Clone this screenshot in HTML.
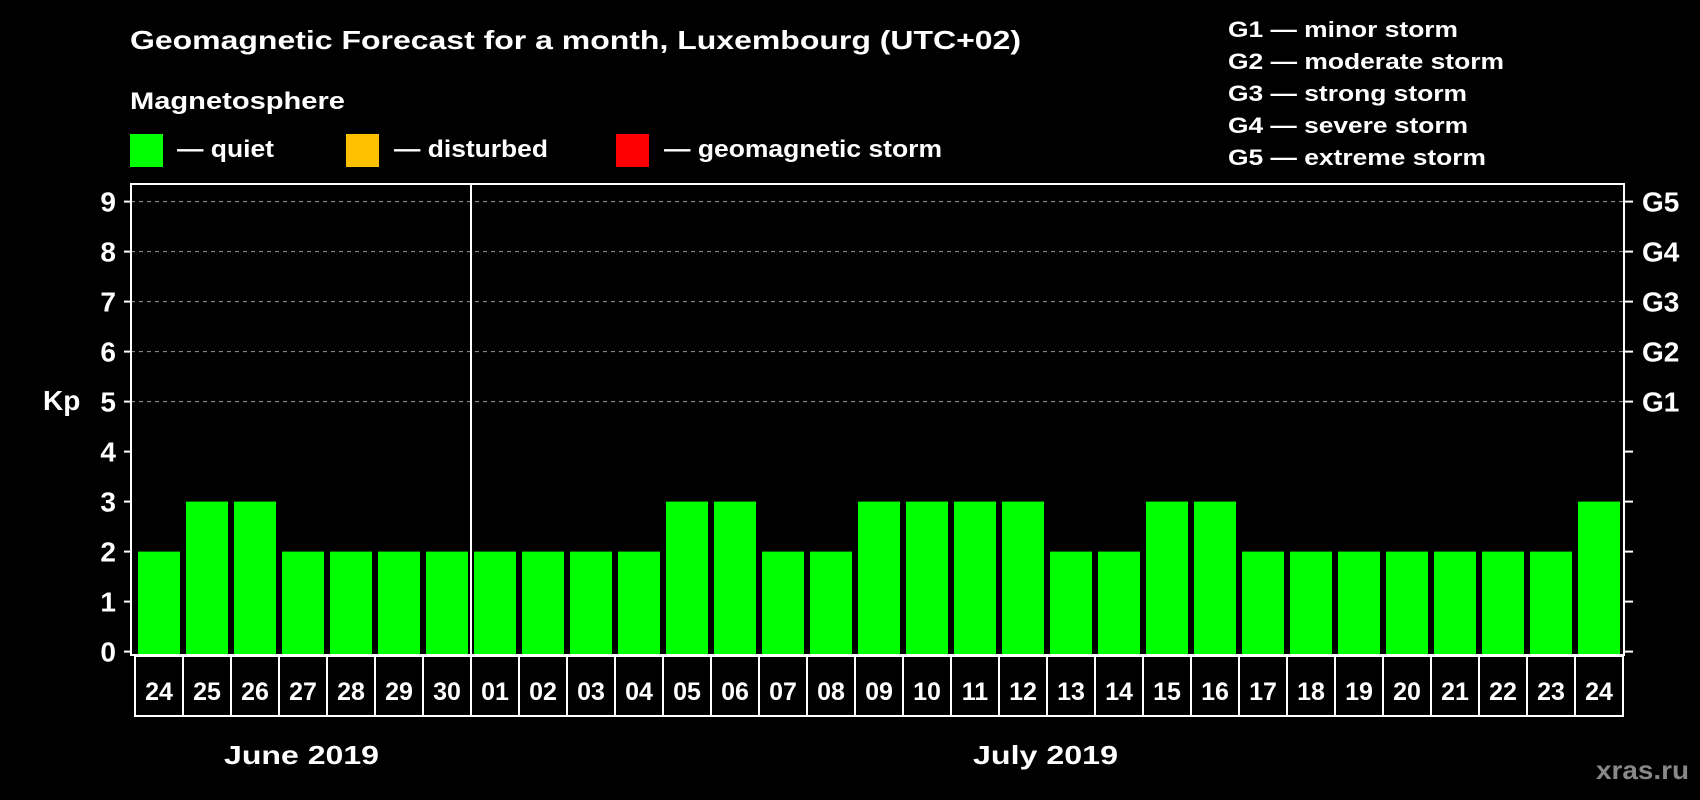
<!DOCTYPE html>
<html><head><meta charset="utf-8"><style>
html,body{margin:0;padding:0;background:#000;width:1700px;height:800px;overflow:hidden}
svg{display:block;font-family:"Liberation Sans",Arial,sans-serif;font-weight:bold}
</style></head><body>
<svg id="chart" width="1700" height="800" viewBox="0 0 1700 800">
<rect x="0" y="0" width="1700" height="800" fill="#000"/>
<text x="130" y="49" fill="#fff" font-size="26" textLength="891" lengthAdjust="spacingAndGlyphs">Geomagnetic Forecast for a month, Luxembourg (UTC+02)</text>
<text x="130" y="109" fill="#fff" font-size="24" textLength="215" lengthAdjust="spacingAndGlyphs">Magnetosphere</text>
<g><rect x="130" y="134" width="33" height="33" fill="#00ff00"/><text x="177" y="157" fill="#fff" font-size="24" textLength="97" lengthAdjust="spacingAndGlyphs">— quiet</text></g>
<g><rect x="346" y="134" width="33" height="33" fill="#ffc000"/><text x="394" y="157" fill="#fff" font-size="24" textLength="154" lengthAdjust="spacingAndGlyphs">— disturbed</text></g>
<g><rect x="616" y="134" width="33" height="33" fill="#ff0000"/><text x="664" y="157" fill="#fff" font-size="24" textLength="278" lengthAdjust="spacingAndGlyphs">— geomagnetic storm</text></g>
<g fill="#fff" font-size="22">
<text x="1228" y="37" textLength="230" lengthAdjust="spacingAndGlyphs">G1 — minor storm</text>
<text x="1228" y="69" textLength="276" lengthAdjust="spacingAndGlyphs">G2 — moderate storm</text>
<text x="1228" y="101" textLength="239" lengthAdjust="spacingAndGlyphs">G3 — strong storm</text>
<text x="1228" y="133" textLength="240" lengthAdjust="spacingAndGlyphs">G4 — severe storm</text>
<text x="1228" y="165" textLength="258" lengthAdjust="spacingAndGlyphs">G5 — extreme storm</text>
</g>
<text x="43" y="410" fill="#fff" font-size="28">Kp</text>
<text x="224" y="764" fill="#fff" font-size="26" textLength="155" lengthAdjust="spacingAndGlyphs">June 2019</text>
<text x="973" y="764" fill="#fff" font-size="26" textLength="145" lengthAdjust="spacingAndGlyphs">July 2019</text>
<text x="1596" y="779" fill="#888" font-size="26" textLength="93" lengthAdjust="spacingAndGlyphs">xras.ru</text>
<g id="plot"></g>
</svg>
<script>
const days = ["24","25","26","27","28","29","30","01","02","03","04","05","06","07","08","09","10","11","12","13","14","15","16","17","18","19","20","21","22","23","24"];
const kpValues = [2,3,3,2,2,2,2,2,2,2,2,3,3,2,2,3,3,3,3,2,2,3,3,2,2,2,2,2,2,2,3];
const yTicks = [0,1,2,3,4,5,6,7,8,9];
const gLabels = ["G1","G2","G3","G4","G5"];
const gLevels = [5,6,7,8,9];
const monthBoundaryIndex = 7;

const NS = "http://www.w3.org/2000/svg";
const plot = document.getElementById('plot');
const L = 131, R = 1624, T = 184, B = 655;
const y0 = 651.6, unit = 50;
const firstX = 138, step = 48, barW = 42;
const rowTop = 656, rowBot = 716;
function yScale(v){ return y0 - v * unit; }
function xScale(i){ return firstX + i * step; }
function mk(tag, attrs){ const e = document.createElementNS(NS, tag); for (const k in attrs) e.setAttribute(k, attrs[k]); plot.appendChild(e); return e; }

gLevels.forEach(function(v){
  const g = mk('line', {x1:L, x2:R, y1:yScale(v), y2:yScale(v), stroke:'#999', 'stroke-width':1, 'stroke-dasharray':'4,4'});
  
  
});
kpValues.forEach(function(v, i){
  const b = mk('rect', {x:xScale(i), y:yScale(v), width:barW, height:B - yScale(v), fill:'#00ff00'});
  
  
});
const fr = mk('rect', {x:L, y:T, width:R - L, height:B - T, fill:'none', stroke:'#fff', 'stroke-width':2});


const divX = xScale(monthBoundaryIndex) - (step - barW) / 2;
const dv = mk('line', {x1:divX, x2:divX, y1:T, y2:rowBot, stroke:'#fff', 'stroke-width':2});


yTicks.forEach(function(v){
  const y = yScale(v);
  mk('line', {x1:124, x2:L, y1:y, y2:y, stroke:'#fff', 'stroke-width':2});
  mk('line', {x1:R, x2:1633, y1:y, y2:y, stroke:'#fff', 'stroke-width':2});
  const t = mk('text', {x:116, y:y + 10, fill:'#fff', 'font-size':28, 'text-anchor':'end'});
  t.textContent = v;
  
  
});
gLevels.forEach(function(v, i){
  const t = mk('text', {x:1642, y:yScale(v) + 10, fill:'#fff', 'font-size':28});
  t.textContent = gLabels[i];
  
  
});
const cellL = 135;
const row = mk('rect', {x:cellL, y:rowTop, width:1623 - cellL, height:rowBot - rowTop, fill:'none', stroke:'#fff', 'stroke-width':2});


days.forEach(function(d, i){
  const cx = cellL + i * step;
  if (i > 0) mk('line', {x1:cx, x2:cx, y1:rowTop, y2:rowBot, stroke:'#fff', 'stroke-width':2});
  const t = mk('text', {x:cx + step / 2, y:700, fill:'#fff', 'font-size':25, 'text-anchor':'middle'});
  t.textContent = d;
  
  
});
</script>
</body></html>
